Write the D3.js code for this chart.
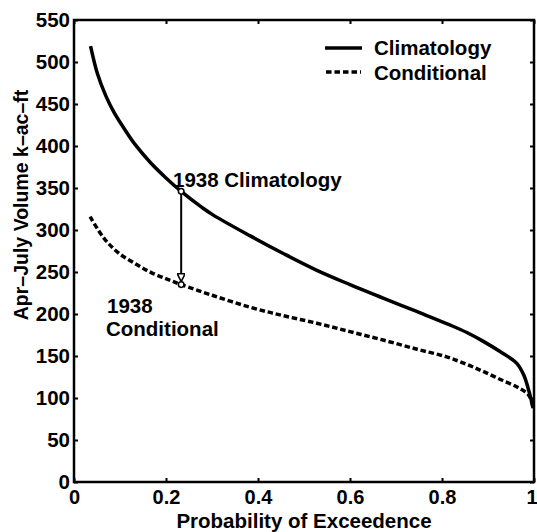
<!DOCTYPE html>
<html>
<head>
<meta charset="utf-8">
<script src="https://cdn.jsdelivr.net/npm/d3@7"></script>
<style>
  html, body { margin: 0; padding: 0; background: #fff; }
  svg { display: block; }
  text { font-family: "Liberation Sans", Arial, Helvetica, sans-serif; font-weight: bold; fill: #000; }
</style>
</head>
<body>
<svg id="chart" width="537" height="532"></svg>
<script>
// ---- data ----
const climProb = [0.036, 0.051, 0.069, 0.087, 0.116, 0.134, 0.165, 0.200, 0.233, 0.278, 0.302, 0.383, 0.455, 0.528, 0.600, 0.672, 0.745, 0.817, 0.854, 0.888, 0.927, 0.963, 0.978, 0.991, 0.998];
const climVol  = [519,   486,   460,   440,   415,   401,   381,   362,   346,   327,   318,   293,   272,   252,   235,   219,   203,   187,   178,   168,   155,   141,   127,   104,   88];
const condProb = [0.035, 0.064, 0.096, 0.133, 0.169, 0.205, 0.233, 0.302, 0.383, 0.455, 0.528, 0.600, 0.672, 0.746, 0.810, 0.854, 0.888, 0.927, 0.967, 0.989, 0.998];
const condVol  = [316,   291,   273,   260,   249,   241,   235,   222,   208,   198,   189,   179,   169,   158,   149,   140,   132,   122,   112,   103,   88];
const xTicks = [0, 0.2, 0.4, 0.6, 0.8, 1];
const xTickLabels = ["0", "0.2", "0.4", "0.6", "0.8", "1"];
const yTicks = [0, 50, 100, 150, 200, 250, 300, 350, 400, 450, 500, 550];
const seriesNames = ["Climatology", "Conditional"];
const event1938Prob = 0.233;
const event1938Clim = 346;
const event1938Cond = 235;
const xTitle = "Probability of Exceedence";
const yTitle = "Apr\u2013July Volume k\u2013ac\u2013ft";

// ---- layout ----
const W = 537, H = 532;
const m = { left: 74, top: 20, right: 3, bottom: 50 };
const iw = W - m.left - m.right, ih = H - m.top - m.bottom;

const svg = d3.select("#chart");
const g = svg.append("g").attr("transform", `translate(${m.left},${m.top})`);

const x = d3.scaleLinear().domain([0, 1]).range([0, iw]);
const y = d3.scaleLinear().domain([0, 550]).range([ih, 0]);

const FS = 20.5;

// axes (ticks inward, MATLAB style)
const yAxis = g.append("g").call(d3.axisLeft(y).tickValues(yTicks).tickSize(-4).tickPadding(4).tickSizeOuter(0));
yAxis.selectAll("text").style("font-size", FS + "px");
const xAxis = g.append("g").attr("transform", `translate(0,${ih})`)
  .call(d3.axisBottom(x).tickValues(xTicks).tickFormat((d, i) => xTickLabels[i]).tickSize(-4).tickPadding(8).tickSizeOuter(0));
xAxis.selectAll("text").style("font-size", "20px");
// last label would fall off the page edge: keep it inside
xAxis.selectAll(".tick").filter(d => d === 1).select("text").attr("text-anchor", "end").attr("x", 3);
g.append("g").call(d3.axisTop(x).tickValues(xTicks).tickFormat("").tickSize(-4).tickSizeOuter(0));
g.append("g").attr("transform", `translate(${iw},0)`)
  .call(d3.axisRight(y).tickValues(yTicks).tickFormat("").tickSize(-4).tickSizeOuter(0));
g.selectAll(".domain").remove();
g.selectAll(".tick line").attr("stroke", "#000").attr("stroke-width", 2);

// frame
g.append("rect").attr("x", 0).attr("y", 0).attr("width", iw).attr("height", ih)
  .attr("fill", "none").attr("stroke", "#000").attr("stroke-width", 2.5);

// lines
const line = d3.line().x(d => x(d[0])).y(d => y(d[1])).curve(d3.curveCatmullRom.alpha(0.5));
const climData = climProb.map((p, i) => [p, climVol[i]]);
const condData = condProb.map((p, i) => [p, condVol[i]]);

g.append("path").datum(climData).attr("d", line)
  .attr("fill", "none").attr("stroke", "#000").attr("stroke-width", 3.5);
g.append("path").datum(condData).attr("d", line)
  .attr("fill", "none").attr("stroke", "#000").attr("stroke-width", 3.5)
  .attr("stroke-dasharray", "5.5,2.8");

// arrow 1938
const defs = svg.append("defs");
defs.append("marker").attr("id", "ah").attr("viewBox", "0 0 10 10")
  .attr("refX", 10).attr("refY", 5).attr("markerWidth", 4.5).attr("markerHeight", 4)
  .attr("markerUnits", "strokeWidth").attr("orient", "auto")
  .append("path").attr("d", "M0,0 L10,5 L0,10 Z").attr("fill", "#fff").attr("stroke", "#000").attr("stroke-width", 2);

g.append("line")
  .attr("x1", x(event1938Prob)).attr("y1", y(event1938Clim))
  .attr("x2", x(event1938Prob)).attr("y2", y(event1938Cond) - 3)
  .attr("stroke", "#000").attr("stroke-width", 2).attr("marker-end", "url(#ah)");
[event1938Clim, event1938Cond].forEach(v => {
  g.append("circle").attr("cx", x(event1938Prob)).attr("cy", y(v)).attr("r", 2.8)
    .attr("fill", "#fff").attr("stroke", "#000").attr("stroke-width", 1.5);
});

// annotations
svg.append("text").attr("x", 173).attr("y", 187).style("font-size", FS + "px").text("1938 " + seriesNames[0]);
svg.append("text").attr("x", 107).attr("y", 313).style("font-size", FS + "px").text("1938");
svg.append("text").attr("x", 106).attr("y", 336).style("font-size", FS + "px").text(seriesNames[1]);

// legend
const lg = svg.append("g");
lg.append("line").attr("x1", 325).attr("x2", 362).attr("y1", 48).attr("y2", 48)
  .attr("stroke", "#000").attr("stroke-width", 3.5);
lg.append("line").attr("x1", 326).attr("x2", 361).attr("y1", 72).attr("y2", 72)
  .attr("stroke", "#000").attr("stroke-width", 3.5).attr("stroke-dasharray", "5.5,3");
lg.append("text").attr("x", 374).attr("y", 55).style("font-size", FS + "px").text(seriesNames[0]);
lg.append("text").attr("x", 374).attr("y", 80).style("font-size", FS + "px").text(seriesNames[1]);

// axis titles
svg.append("text").attr("x", m.left + iw / 2).attr("y", 528).attr("text-anchor", "middle")
  .style("font-size", "20.5px").text(xTitle);
svg.append("text").attr("transform", "translate(28,205) rotate(-90)").attr("text-anchor", "middle")
  .style("font-size", "19.5px").text(yTitle);
</script>
</body>
</html>
